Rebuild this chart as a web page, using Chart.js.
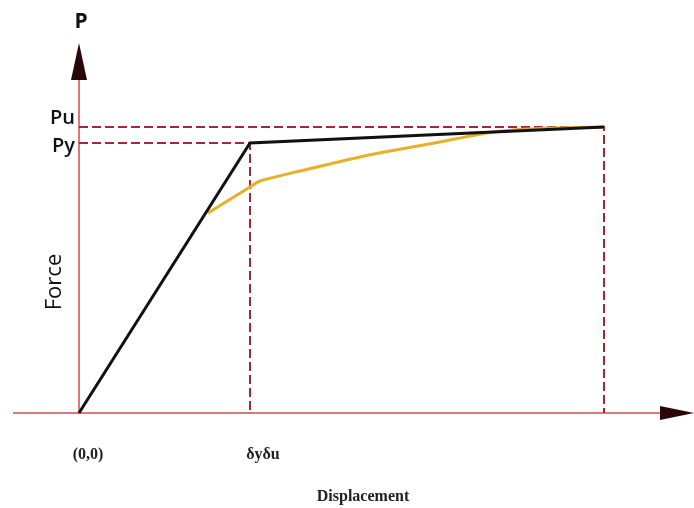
<!DOCTYPE html>
<html>
<head>
<meta charset="utf-8">
<script src="https://cdn.jsdelivr.net/npm/chart.js@4/dist/chart.umd.min.js"></script>
<style>
  html, body { margin: 0; padding: 0; background: #fff; }
  #wrap { width: 694px; height: 508px; position: relative; }
</style>
</head>
<body>
<div id="wrap"><canvas id="chart"></canvas></div>
<script>
  // displacement (x) and force (y) values
  var bilinearX = [0, 171, 525];
  var bilinearY = [0, 270, 286];
  var curveX = [129, 171, 181, 221, 251, 281, 311, 361, 414, 470, 525];
  var curveY = [200, 226, 232, 242, 249, 256, 262, 271, 281, 285, 286];
  var refX = [171, 525];          // δy, δu
  var refY = [270, 286];          // Py, Pu
  var xTickLabels = ['(0,0)', 'δyδu'];
  var yTickLabels = ['Py', 'Pu'];
  var axisMaxX = 581;
  var axisMaxY = 333;

  function pts(xs, ys) {
    return xs.map(function (x, i) { return { x: x, y: ys[i] }; });
  }

  var axisRed = 'rgb(205, 75, 85)';
  var dashRed = 'rgb(155, 45, 50)';

  var decor = {
    id: 'decor',
    afterDatasetsDraw: function (chart) {
      var ctx = chart.ctx;
      var sx = chart.scales.x, sy = chart.scales.y;
      var ox = sx.getPixelForValue(0), oy = sy.getPixelForValue(0);
      var xEnd = sx.getPixelForValue(axisMaxX);
      var yEnd = sy.getPixelForValue(axisMaxY);
      ctx.save();
      // arrow heads
      ctx.fillStyle = '#2a0606';
      ctx.beginPath();
      ctx.moveTo(ox, yEnd - 37);
      ctx.lineTo(ox - 8, yEnd);
      ctx.lineTo(ox + 8, yEnd);
      ctx.closePath();
      ctx.fill();
      ctx.beginPath();
      ctx.moveTo(xEnd + 34, oy);
      ctx.lineTo(xEnd, oy - 7);
      ctx.lineTo(xEnd, oy + 7);
      ctx.closePath();
      ctx.fill();

      ctx.fillStyle = '#111';
      ctx.textBaseline = 'middle';
      ctx.textAlign = 'center';
      ctx.font = 'bold 21px "Open Sans", sans-serif';
      ctx.fillText('P', ox + 2, 22);

      ctx.font = '600 20px "Open Sans", sans-serif';
      ctx.textAlign = 'right';
      ctx.fillText(yTickLabels[1], ox - 4, sy.getPixelForValue(refY[1]) - 9);
      ctx.fillText(yTickLabels[0], ox - 4, sy.getPixelForValue(refY[0]) + 3);

      ctx.textAlign = 'center';
      ctx.fillStyle = '#222';
      ctx.font = 'bold 16px "Liberation Serif", serif';
      ctx.fillText(xTickLabels[0], ox + 9, oy + 42);
      ctx.fillText(xTickLabels[1], sx.getPixelForValue(refX[0]) + 13, oy + 42);
      ctx.fillText('Displacement', 363, 497);

      ctx.fillStyle = '#111';
      ctx.translate(55, 282);
      ctx.rotate(-Math.PI / 2);
      ctx.font = '22px "Open Sans", sans-serif';
      ctx.fillText('Force', 0, 0);
      ctx.restore();
    }
  };

  var dashed = {
    borderColor: dashRed,
    borderWidth: 2,
    borderDash: [9, 4],
    pointRadius: 0,
    showLine: true,
    fill: false,
    order: 5
  };

  new Chart(document.getElementById('chart'), {
    type: 'scatter',
    data: {
      datasets: [
        {
          label: 'Bilinear',
          data: pts(bilinearX, bilinearY),
          borderColor: '#111',
          borderWidth: 3,
          pointRadius: 0,
          showLine: true,
          order: 1
        },
        {
          label: 'Curve',
          data: pts(curveX, curveY),
          borderColor: 'rgb(232, 176, 40)',
          borderWidth: 3,
          pointRadius: 0,
          showLine: true,
          tension: 0.2,
          order: 2
        },
        Object.assign({ data: [{ x: 0, y: refY[1] }, { x: refX[1], y: refY[1] }, { x: refX[1], y: 0 }] }, dashed),
        Object.assign({ data: [{ x: 0, y: refY[0] }, { x: refX[0], y: refY[0] }, { x: refX[0], y: 0 }] }, dashed),
        {
          data: [{ x: -66, y: 0 }, { x: axisMaxX, y: 0 }],
          borderColor: axisRed, borderWidth: 1.5, pointRadius: 0, showLine: true, order: 6
        },
        {
          data: [{ x: 0, y: 0 }, { x: 0, y: axisMaxY }],
          borderColor: axisRed, borderWidth: 1.5, pointRadius: 0, showLine: true, order: 6
        }
      ]
    },
    options: {
      responsive: true,
      maintainAspectRatio: false,
      animation: false,
      layout: { padding: 0 },
      scales: {
        x: { type: 'linear', display: false, min: -79, max: 615 },
        y: { type: 'linear', display: false, min: -95, max: 413 }
      },
      plugins: {
        legend: { display: false },
        tooltip: { enabled: false }
      }
    },
    plugins: [decor]
  });
</script>
</body>
</html>
